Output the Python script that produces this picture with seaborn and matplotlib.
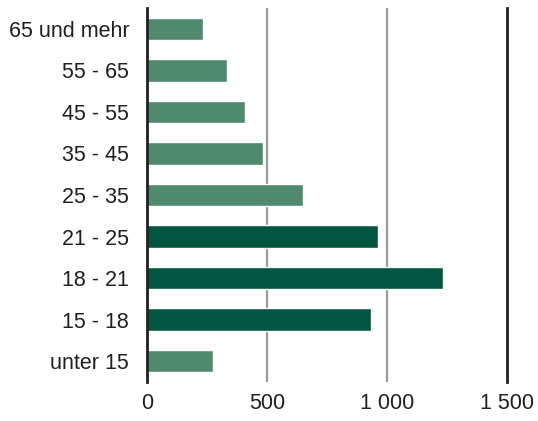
import matplotlib
matplotlib.use("Agg")
import matplotlib.pyplot as plt
import seaborn as sns
import pandas as pd

categories = ["65 und mehr", "55 - 65", "45 - 55", "35 - 45", "25 - 35",
              "21 - 25", "18 - 21", "15 - 18", "unter 15"]
values = [231, 332, 407, 481, 648, 963, 1233, 934, 273]
highlight = [False, False, False, False, False, True, True, True, False]
xticks = [0, 500, 1000, 1500]
xtick_labels = ["0", "500", "1 000", "1 500"]

light = "#508a6e"
dark = "#02563f"

sns.set_theme(style="white")
plt.rcParams["font.family"] = ["Liberation Sans", "DejaVu Sans"]

df = pd.DataFrame({"cat": categories, "val": values})
palette = {c: (dark if h else light) for c, h in zip(categories, highlight)}

fig = plt.figure(figsize=(5.38, 4.21), dpi=100)
ax = fig.add_axes([0.2738, 0.0926, 0.668, 0.8884])

sns.barplot(data=df, x="val", y="cat", hue="cat", palette=palette,
            order=categories, legend=False, width=0.54, saturation=1,
            ax=ax, zorder=3)

ax.set_xlim(0, 1500)
ax.set_ylim(8.5, -0.5)
ax.set_xticks(xticks)
ax.set_xticklabels(xtick_labels)
ax.set_xlabel("")
ax.set_ylabel("")

for x in [500, 1000]:
    ax.axvline(x, color="#999999", lw=1.6, zorder=1)

for s in ["top", "bottom"]:
    ax.spines[s].set_visible(False)
ax.spines["left"].set_color("#231f20")
ax.spines["left"].set_linewidth(2.0)
ax.spines["left"].set_zorder(5)
ax.spines["right"].set_color("#231f20")
ax.spines["right"].set_linewidth(2.0)

ax.tick_params(axis="both", length=0, labelsize=15.5, colors="#231f20")
ax.tick_params(axis="x", pad=8)
ax.tick_params(axis="y", pad=13)

fig.savefig("out.png", dpi=100)
